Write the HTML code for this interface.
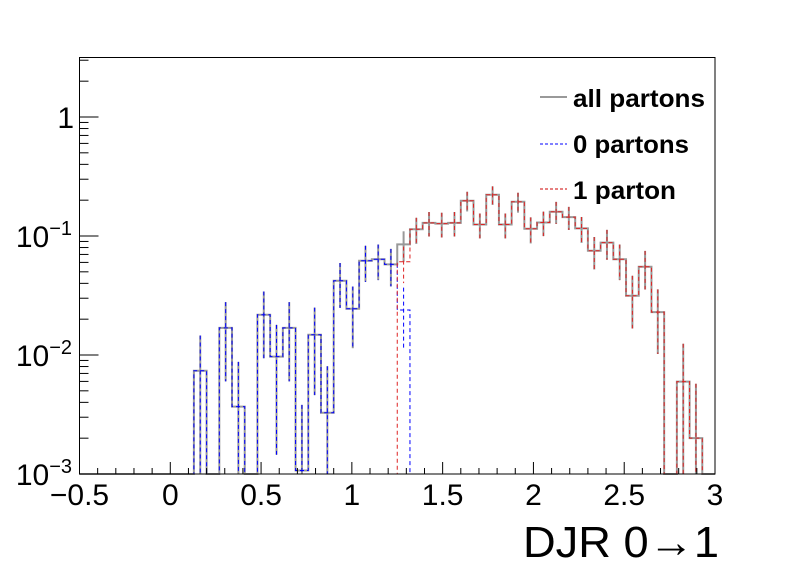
<!DOCTYPE html>
<html><head><meta charset="utf-8"><style>
html,body{margin:0;padding:0;background:#fff}
svg{display:block;font-family:"Liberation Sans",Arial,sans-serif}
</style></head><body>
<svg id="chart" width="796" height="572" viewBox="0 0 796 572">
<rect x="0" y="0" width="796" height="572" fill="#fff"/>
<g id="marks"></g>
<g id="axes"></g>
<rect x="79.5" y="57.5" width="635.5" height="416.5" fill="none" stroke="#000" stroke-width="1"/>
<text x="719" y="557" font-size="44" text-anchor="end" textLength="196" lengthAdjust="spacingAndGlyphs">DJR 0→1</text>
<g>
  <g>
    <line x1="540" y1="97" x2="567" y2="97" stroke="#999" stroke-width="2"/>
    <text x="573" y="107" font-size="25" font-weight="bold" textLength="132" lengthAdjust="spacingAndGlyphs">all partons</text>
  </g>
  <g>
    <line x1="540" y1="144" x2="567" y2="144" stroke="#00f" stroke-width="1" stroke-dasharray="3,2"/>
    <text x="573" y="153" font-size="25" font-weight="bold" textLength="116" lengthAdjust="spacingAndGlyphs">0 partons</text>
  </g>
  <g>
    <line x1="540" y1="189" x2="567" y2="189" stroke="#c00" stroke-width="1" stroke-dasharray="3,2"/>
    <text x="573" y="199" font-size="25" font-weight="bold" textLength="103" lengthAdjust="spacingAndGlyphs">1 parton</text>
  </g>
</g>
</svg>
<script>
// 50 bins from -0.5 to 3.0 (width 0.07)
const binLow = -0.5;
const binWidth = 0.07;
const allValues = [0,0,0,0,0,0,0,0,0,0.00738,0,0.0169,0.00368,0,0.0218,0.00968,0.0169,0.00107,0.0148,0.00327,0.0421,0.0245,0.062,0.0637,0.0578,0.0851,0.114,0.129,0.127,0.129,0.198,0.125,0.222,0.125,0.194,0.115,0.130,0.160,0.144,0.116,0.0752,0.0879,0.0637,0.0315,0.0552,0.0229,0,0.00597,0.002,0];
const allErrors = [0,0,0,0,0,0,0,0,0,0.00719,0,0.0109,0.00508,0,0.0124,0.00823,0.0109,0.00274,0.0102,0.00478,0.0172,0.0131,0.0208,0.0211,0.0201,0.0244,0.0282,0.030,0.0298,0.030,0.0372,0.0296,0.0394,0.0296,0.0369,0.0284,0.0302,0.0335,0.0317,0.0285,0.0229,0.0248,0.0211,0.0148,0.0197,0.0127,0,0.00646,0.00374,0];
const zeroValues = [0,0,0,0,0,0,0,0,0,0.00738,0,0.0169,0.00368,0,0.0218,0.00968,0.0169,0.00107,0.0148,0.00327,0.0421,0.0245,0.062,0.0637,0.0578,0.0239,0,0,0,0,0,0,0,0,0,0,0,0,0,0,0,0,0,0,0,0,0,0,0,0];
const zeroErrors = [0,0,0,0,0,0,0,0,0,0.00719,0,0.0109,0.00508,0,0.0124,0.00823,0.0109,0.00274,0.0102,0.00478,0.0172,0.0131,0.0208,0.0211,0.0201,0.0129,0,0,0,0,0,0,0,0,0,0,0,0,0,0,0,0,0,0,0,0,0,0,0,0];
const oneValues = [0,0,0,0,0,0,0,0,0,0,0,0,0,0,0,0,0,0,0,0,0,0,0,0,0,0.0608,0.114,0.129,0.127,0.129,0.198,0.125,0.222,0.125,0.194,0.115,0.130,0.160,0.144,0.116,0.0752,0.0879,0.0637,0.0315,0.0552,0.0229,0,0.00597,0.002,0];
const oneErrors = [0,0,0,0,0,0,0,0,0,0,0,0,0,0,0,0,0,0,0,0,0,0,0,0,0,0.0206,0.0282,0.030,0.0298,0.030,0.0372,0.0296,0.0394,0.0296,0.0369,0.0284,0.0302,0.0335,0.0317,0.0285,0.0229,0.0248,0.0211,0.0148,0.0197,0.0127,0,0.00646,0.00374,0];
const xTickLabels = ["−0.5","0","0.5","1","1.5","2","2.5","3"];
const xTickValues = [-0.5,0,0.5,1,1.5,2,2.5,3];
const yTickExps = [-3,-2,-1,0];

const NS = "http://www.w3.org/2000/svg";
const X0=79.5, X1=715, XMIN=-0.5, XMAX=3.0;
const YB=474, YT=57.5, LMIN=-3, LMAX=0.5;
function sx(v){return X0+(v-XMIN)/(XMAX-XMIN)*(X1-X0);}
function sy(v){if(v<=0)return YB;const l=Math.log10(v);return Math.max(YT,Math.min(YB,YB-(l-LMIN)/(LMAX-LMIN)*(YB-YT)));}
function mk(tag,attrs,parent){const e=document.createElementNS(NS,tag);for(const k in attrs)e.setAttribute(k,attrs[k]);parent.appendChild(e);return e;}

const marks=document.getElementById('marks');
function drawHist(vals,errs,color,width,dash,name){
  const g=mk('g',{},marks);
  
  
  let d="M"+sx(binLow)+","+YB;
  for(let i=0;i<vals.length;i++){
    const xl=sx(binLow+i*binWidth), xr=sx(binLow+(i+1)*binWidth), y=sy(vals[i]);
    d+=" L"+xl+","+y+" L"+xr+","+y;
  }
  d+=" L"+sx(binLow+vals.length*binWidth)+","+YB;
  const p=mk('path',{d:d,fill:'none',stroke:color,'stroke-width':width},g);
  if(dash)p.setAttribute('stroke-dasharray',dash);
  
  
  for(let i=0;i<vals.length;i++){
    if(vals[i]<=0)continue;
    const xc=sx(binLow+(i+0.5)*binWidth);
    const l=mk('line',{x1:xc,x2:xc,y1:sy(vals[i]+errs[i]),y2:sy(vals[i]-errs[i]),stroke:color,'stroke-width':width},g);
    if(dash)l.setAttribute('stroke-dasharray',dash);
    
    
  }
}
drawHist(allValues,allErrors,'#999',2,null,'all-partons-hist');
drawHist(zeroValues,zeroErrors,'#00f',1,'4,3','zero-partons-hist');
drawHist(oneValues,oneErrors,'#d22',1,'4,3','one-parton-hist');

const axes=document.getElementById('axes');
for(let k=0;k<=35;k++){
  const v=-0.5+k*0.1, x=sx(v), major=(k%5===0);
  const t=mk('line',{x1:x,x2:x,y1:YB,y2:YB-(major?12:6),stroke:'#000','stroke-width':1},axes);
  
  
}
for(let i=0;i<xTickValues.length;i++){
  const t=mk('text',{x:sx(xTickValues[i]),y:505,'font-size':30,'text-anchor':'middle'},axes);
  t.textContent=xTickLabels[i];
  
  
}
for(let e=-3;e<=0;e++){
  for(let m=1;m<=9;m++){
    const v=m*Math.pow(10,e); if(v>Math.pow(10,LMAX))continue;
    const y=sy(v);
    const t=mk('line',{x1:X0,x2:X0+(m===1?19:9),y1:y,y2:y,stroke:'#000','stroke-width':1},axes);
    
    
  }
}
for(const e of yTickExps){
  const y=sy(Math.pow(10,e));
  const t=mk('text',{x:e===0?74:72,y:y+11,'font-size':30,'text-anchor':'end'},axes);
  
  
  if(e===0){t.textContent="1";}
  else{
    const b=mk('tspan',{},t);b.textContent="10";
    const s=mk('tspan',{dy:-12,'font-size':20},t);s.textContent="−"+(-e);
  }
}
</script>
</body></html>
